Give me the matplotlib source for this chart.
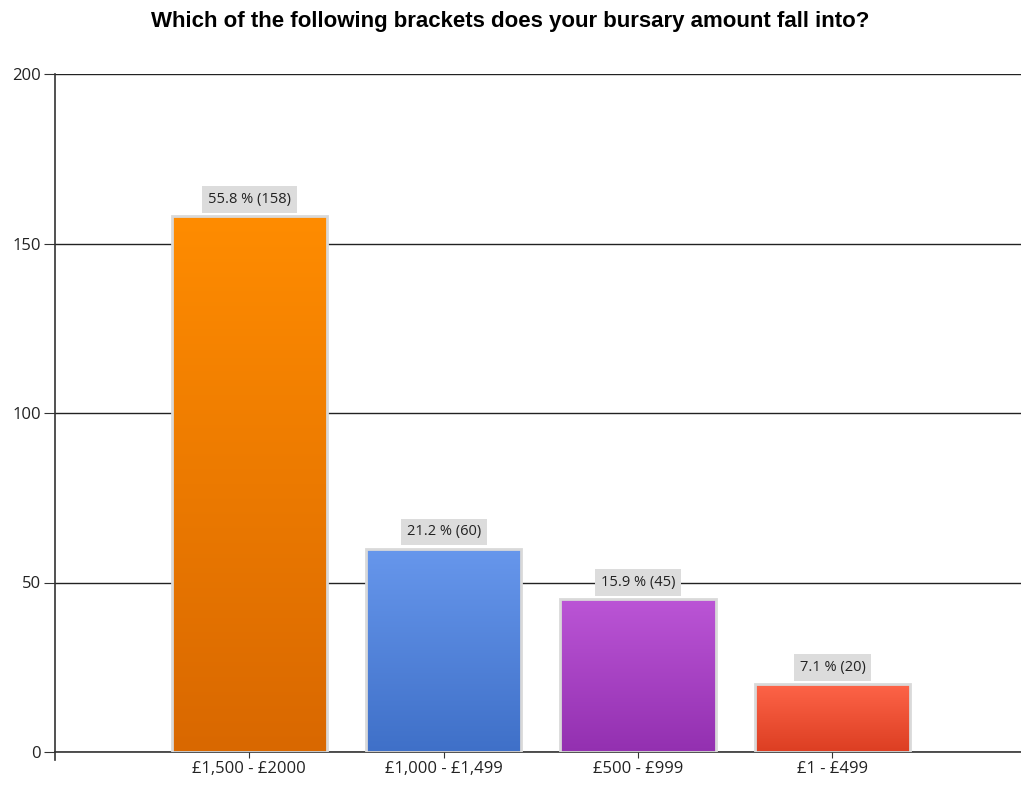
import matplotlib.pyplot as plt
import numpy as np
from matplotlib.colors import LinearSegmentedColormap

# bursary bracket survey counts
brackets = ["£1,500 - £2000", "£1,000 - £1,499", "£500 - £999", "£1 - £499"]
counts = [158, 60, 45, 20]
percents = [55.8, 21.2, 15.9, 7.1]

# top / bottom colours for each bar gradient
tops = ["#ff8c00", "#6797ec", "#bb55d6", "#fe6448"]
bottoms = ["#d96800", "#3f70c8", "#9330b0", "#dc3e22"]

fig = plt.figure(figsize=(10.21, 7.85), dpi=100)
ax = fig.add_axes([55 / 1021, 33 / 785, 966 / 1021, 678 / 785])

x = np.arange(len(brackets))
bars = ax.bar(x, counts, width=0.8, color="none", edgecolor="#d9d9d9",
              linewidth=2, zorder=3)

grad = np.linspace(0, 1, 256).reshape(-1, 1)
for b, top, bot in zip(bars, tops, bottoms):
    cmap = LinearSegmentedColormap.from_list("g", [bot, top])
    x0, y0 = b.get_x(), b.get_y()
    im = ax.imshow(grad, cmap=cmap, origin="lower", aspect="auto",
                   extent=[x0, x0 + b.get_width(), y0, y0 + b.get_height()],
                   zorder=2)
    im.set_clip_path(b)

for xi, c, p in zip(x, counts, percents):
    ax.annotate(f"{p} % ({c})", (xi, c), xytext=(0, 12), textcoords="offset points",
                ha="center", va="center", fontsize=10.5, family="Open Sans",
                color="#222222",
                bbox=dict(boxstyle="square,pad=0.4", fc="#dcdcdc", ec="none"))

ax.set_xlim(-1, 3.97)
ax.set_ylim(0, 200)
ax.set_yticks([0, 50, 100, 150, 200])
ax.set_xticks(x)
ax.set_xticklabels(brackets)
ax.yaxis.grid(True, color="#222222", linewidth=1)
ax.set_axisbelow(True)

for s in ["top", "right"]:
    ax.spines[s].set_visible(False)
for s in ["left", "bottom"]:
    ax.spines[s].set_color("#333333")
    ax.spines[s].set_linewidth(1.2)

ax.tick_params(axis="y", length=8, color="#333333", labelsize=12, pad=2)
ax.tick_params(axis="x", length=4.5, color="#333333", labelsize=12, pad=2)
for lab in ax.get_xticklabels() + ax.get_yticklabels():
    lab.set_family("Open Sans")
    lab.set_color("#222222")

# small tick at the left end of the x axis
ax.plot([-1, -1], [0, -2.5], color="#333333", lw=1.2, clip_on=False)

fig.text(510 / 1021, 1 - 22 / 785, "Which of the following brackets does your bursary amount fall into?",
         ha="center", va="center", fontsize=16, fontweight="bold", family="Liberation Sans")

fig.savefig("out.png", dpi=100)
